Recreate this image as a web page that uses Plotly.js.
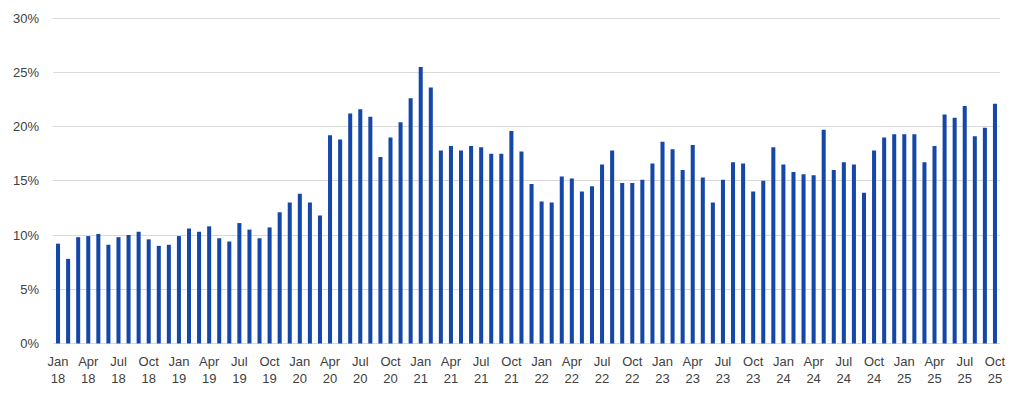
<!DOCTYPE html>
<html>
<head>
<meta charset="utf-8">
<script src="https://cdn.plot.ly/plotly-3.0.1.min.js"></script>
<style>html,body{margin:0;padding:0;background:#fff;}#chart{width:1024px;height:398px;}</style>
</head>
<body>
<div id="chart"></div>
<script>
const monthNames = ["Jan","Feb","Mar","Apr","May","Jun","Jul","Aug","Sep","Oct","Nov","Dec"];
const years = ["18","19","20","21","22","23","24","25"];
const categories = [];
years.forEach(function(y){ monthNames.forEach(function(m){ categories.push(m + " " + y); }); });
categories.length = 94; // Jan 18 .. Oct 25

const values = [
  9.2, 7.8, 9.8, 9.9, 10.1, 9.1, 9.8, 10.0, 10.3, 9.6, 9.0, 9.1,
  9.9, 10.6, 10.3, 10.8, 9.7, 9.4, 11.1, 10.5, 9.7, 10.7, 12.1, 13.0,
  13.8, 13.0, 11.8, 19.2, 18.8, 21.2, 21.6, 20.9, 17.2, 19.0, 20.4, 22.6,
  25.5, 23.6, 17.8, 18.2, 17.8, 18.2, 18.1, 17.5, 17.5, 19.6, 17.7, 14.7,
  13.1, 13.0, 15.4, 15.2, 14.0, 14.5, 16.5, 17.8, 14.8, 14.8, 15.1, 16.6,
  18.6, 17.9, 16.0, 18.3, 15.3, 13.0, 15.1, 16.7, 16.6, 14.0, 15.0, 18.1,
  16.5, 15.8, 15.6, 15.5, 19.7, 16.0, 16.7, 16.5, 13.9, 17.8, 19.0, 19.3,
  19.3, 19.3, 16.7, 18.2, 21.1, 20.8, 21.9, 19.1, 19.9, 22.1
];

const tickCategories = categories.filter(function(c, i){ return i % 3 === 0; });
const tickLabels = tickCategories.map(function(c){ return c.replace(" ", "<br>"); });
const yTickValues = [0, 5, 10, 15, 20, 25, 30];
const yTickLabels = yTickValues.map(function(v){ return v + "%"; });

const trace = {
  type: "bar",
  x: categories,
  y: values,
  marker: { color: "#1447a8" },
  width: 0.4,
  hoverinfo: "x+y"
};

const layout = {
  width: 1024,
  height: 398,
  margin: { l: 53, r: 24, t: 17, b: 54 },
  paper_bgcolor: "#ffffff",
  plot_bgcolor: "#ffffff",
  showlegend: false,
  font: { family: "Liberation Sans, Arial, sans-serif", size: 13, color: "#404040" },
  xaxis: {
    type: "category",
    tickmode: "array",
    tickvals: tickCategories,
    ticktext: tickLabels,
    tickangle: 0,
    showgrid: false,
    zeroline: false,
    showline: false,
    ticks: "",
    ticklabelstandoff: 8,
    tickfont: { size: 13, color: "#404040" },
    range: [-0.5, 93.5]
  },
  yaxis: {
    range: [-0.05, 30.1],
    tickmode: "array",
    tickvals: yTickValues,
    ticktext: yTickLabels,
    showgrid: true,
    gridcolor: "#d9d9d9",
    gridwidth: 1,
    zeroline: true,
    zerolinecolor: "#d9d9d9",
    zerolinewidth: 1,
    showline: false,
    ticks: "",
    ticklabelstandoff: 13,
    tickfont: { size: 13, color: "#404040" }
  }
};

Plotly.newPlot("chart", [trace], layout, { displayModeBar: false, staticPlot: true });
</script>
</body>
</html>
